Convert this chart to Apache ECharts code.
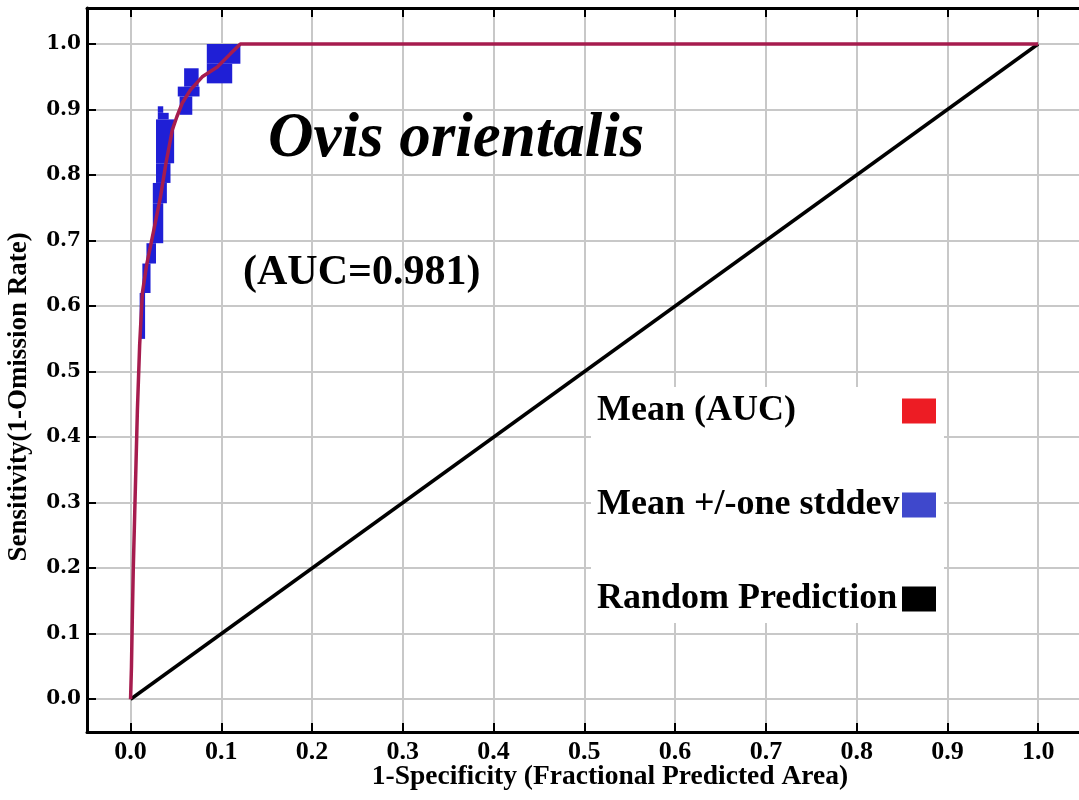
<!DOCTYPE html>
<html>
<head>
<meta charset="utf-8">
<script src="https://cdn.jsdelivr.net/npm/echarts@6/dist/echarts.min.js"></script>
<style>
  html, body { margin: 0; padding: 0; background: #fff; }
  #chart { width: 1079px; height: 800px; }
</style>
</head>
<body>
<div id="chart"></div>
<script>
// tick labels
var xTicks = [0.0, 0.1, 0.2, 0.3, 0.4, 0.5, 0.6, 0.7, 0.8, 0.9, 1.0];
var yTicks = [0.0, 0.1, 0.2, 0.3, 0.4, 0.5, 0.6, 0.7, 0.8, 0.9, 1.0];

// mean ROC curve
var meanX = [0, 0.001, 0.002, 0.003, 0.0045, 0.006, 0.0075, 0.010, 0.013, 0.018, 0.0256, 0.033, 0.039, 0.046, 0.051, 0.057, 0.066, 0.079, 0.0956, 0.110, 0.121, 1.0];
var meanY = [0, 0.05, 0.13, 0.20, 0.28, 0.36, 0.44, 0.54, 0.62, 0.665, 0.716, 0.767, 0.818, 0.869, 0.889, 0.91, 0.93, 0.95, 0.965, 0.985, 1.0, 1.0];

// mean +/- one stddev blocks
var bandX0 = [0.010, 0.013, 0.0175, 0.0245, 0.0245, 0.028, 0.028, 0.030, 0.030, 0.054, 0.052, 0.059, 0.084, 0.084];
var bandX1 = [0.016, 0.022, 0.028, 0.036, 0.040, 0.044, 0.048, 0.042, 0.036, 0.068, 0.076, 0.075, 0.112, 0.121];
var bandY0 = [0.55, 0.62, 0.665, 0.696, 0.757, 0.788, 0.818, 0.885, 0.895, 0.892, 0.92, 0.935, 0.94, 0.97];
var bandY1 = [0.62, 0.665, 0.696, 0.757, 0.788, 0.818, 0.885, 0.895, 0.905, 0.92, 0.935, 0.963, 0.97, 1.0];

// random prediction
var randX = [0, 1];
var randY = [0, 1];

var seriesNames = ['Mean (AUC)', 'Mean +/-one stddev', 'Random Prediction'];

var serif = 'Liberation Serif';
var gridColor = '#c8c8c8';

var chart = echarts.init(document.getElementById('chart'));

function fmt(v) { return v.toFixed(1); }

chart.setOption({
  backgroundColor: '#fff',
  animation: false,
  grid: { left: 87, right: -6, top: 8, bottom: 68 },
  xAxis: [{
    type: 'value',
    min: -0.048,
    max: 1.045,
    position: 'bottom',
    axisLine: { onZero: false, lineStyle: { color: '#000', width: 3 } },
    axisTick: { inside: true, length: 9, customValues: xTicks, lineStyle: { color: '#000', width: 2 } },
    axisLabel: {
      customValues: xTicks, formatter: fmt, margin: 7,
      fontFamily: serif, fontWeight: 'bold', fontSize: 26, color: '#000'
    },
    splitLine: { show: true, lineStyle: { color: gridColor, width: 2 } }
  }, {
    type: 'value',
    min: -0.048,
    max: 1.045,
    position: 'top',
    axisLine: { onZero: false, lineStyle: { color: '#000', width: 3 } },
    axisTick: { inside: true, length: 9, customValues: xTicks, lineStyle: { color: '#000', width: 2 } },
    axisLabel: { show: false },
    splitLine: { show: false }
  }],
  yAxis: {
    type: 'value',
    min: -0.05,
    max: 1.055,
    axisLine: { show: true, onZero: false, lineStyle: { color: '#000', width: 3 } },
    axisTick: { show: true, inside: true, length: 9, customValues: yTicks, lineStyle: { color: '#000', width: 2 } },
    axisLabel: {
      customValues: yTicks, formatter: fmt, margin: 6, padding: [0, 0, 8, 0],
      fontFamily: 'DejaVu Serif', fontWeight: 'bold', fontSize: 20, color: '#000'
    },
    splitLine: { show: true, lineStyle: { color: gridColor, width: 2 } }
  },
  legend: {
    orient: 'vertical',
    left: 591,
    top: 387,
    align: 'right',
    icon: 'rect',
    itemWidth: 34,
    itemHeight: 25,
    itemGap: 58,
    padding: [6, 8, 6, 6],
    backgroundColor: '#fff',
    selectedMode: false,
    data: [
      { name: seriesNames[0], itemStyle: { color: '#ed1c24' } },
      { name: seriesNames[1], itemStyle: { color: '#3f48cc' } },
      { name: seriesNames[2], itemStyle: { color: '#000' } }
    ],
    formatter: function (name) { return '{t|' + name + '}'; },
    textStyle: {
      rich: {
        t: { width: 300, align: 'left', lineHeight: 36, fontFamily: serif, fontWeight: 'bold', fontSize: 36, color: '#000' }
      }
    }
  },
  graphic: [
    { type: 'text', x: 268, y: 140, z: 10, style: { text: 'Ovis orientalis', fontFamily: serif, fontStyle: 'italic', fontWeight: 'bold', fontSize: 63, fill: '#000', verticalAlign: 'middle' } },
    { type: 'text', x: 243, y: 273, z: 10, style: { text: '(AUC=0.981)', fontFamily: serif, fontWeight: 'bold', fontSize: 42, fill: '#000', verticalAlign: 'middle' } },
    { type: 'text', x: 610, y: 777, style: { text: '1-Specificity (Fractional Predicted Area)', fontFamily: serif, fontWeight: 'bold', fontSize: 27.5, fill: '#000', align: 'center', verticalAlign: 'middle' } },
    { type: 'text', x: 19, y: 397, rotation: Math.PI / 2, style: { text: 'Sensitivity(1-Omission Rate)', fontFamily: serif, fontWeight: 'bold', fontSize: 27, fill: '#000', align: 'center', verticalAlign: 'middle' } }
  ],
  series: [{
    name: seriesNames[1],
    type: 'custom',
    itemStyle: { color: '#3f48cc' },
    encode: { x: [0, 1], y: [2, 3] },
    data: bandX0.map(function (v, i) { return [v, bandX1[i], bandY0[i], bandY1[i]]; }),
    renderItem: function (params, api) {
      var p0 = api.coord([api.value(0), api.value(3)]);
      var p1 = api.coord([api.value(1), api.value(2)]);
      return {
        type: 'rect',
        shape: { x: p0[0], y: p0[1], width: p1[0] - p0[0], height: p1[1] - p0[1] },
        style: { fill: '#1f1fd6' }
      };
    },
    z: 2
  }, {
    name: seriesNames[2],
    type: 'line',
    data: randX.map(function (v, i) { return [v, randY[i]]; }),
    showSymbol: false,
    itemStyle: { color: '#000' },
    lineStyle: { color: '#000', width: 3.5 },
    z: 3
  }, {
    name: seriesNames[0],
    type: 'line',
    data: meanX.map(function (v, i) { return [v, meanY[i]]; }),
    showSymbol: false,
    itemStyle: { color: '#ed1c24' },
    lineStyle: { color: '#a61c4e', width: 3.5 },
    z: 4
  }]
});
</script>
</body>
</html>
